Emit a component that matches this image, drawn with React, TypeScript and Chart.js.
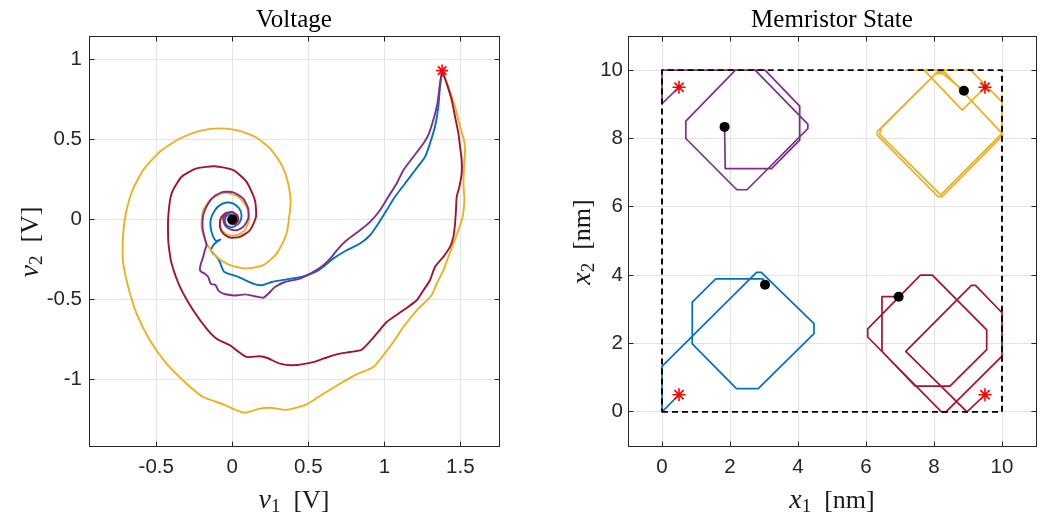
import React, { useEffect, useRef } from 'react';
import { Chart, registerables } from 'chart.js';
Chart.register(...registerables);

// ---------------- Voltage panel (v1 [V], v2 [V]) ----------------
const voltageXRange = [-0.942, 1.754];
const voltageYRange = [-1.414, 1.146];
const voltageXTicks = [-0.5, 0, 0.5, 1, 1.5];
const voltageYTicks = [-1, -0.5, 0, 0.5, 1];
const voltageStart = [[1.38, 0.93]];
const voltageEnd = [[0, 0]];

const voltageBlue = [
  [1.38, 0.93], [1.366, 0.829], [1.355, 0.704], [1.333, 0.579], [1.3, 0.475], [1.268, 0.392],
  [1.202, 0.308], [1.136, 0.225], [1.07, 0.142], [1.015, 0.058], [0.961, -0.025], [0.906, -0.098],
  [0.84, -0.15], [0.752, -0.192], [0.664, -0.244], [0.566, -0.317], [0.456, -0.358], [0.346, -0.375],
  [0.259, -0.39], [0.193, -0.41], [0.138, -0.4], [0.039, -0.358], [-0.026, -0.338], [-0.053, -0.327],
  [-0.07, -0.296], [-0.081, -0.265], [-0.103, -0.233], [-0.125, -0.213], [-0.14, -0.192], [-0.125, -0.16],
  [-0.103, -0.14], [-0.077, -0.125], [-0.107, -0.133], [-0.129, -0.098], [-0.143, -0.046], [-0.14, 0.006],
  [-0.114, 0.058], [-0.081, 0.09], [-0.037, 0.106], [0.007, 0.1], [0.046, 0.069], [0.061, 0.027],
  [0.05, -0.015], [0.018, -0.042], [-0.015, -0.046], [-0.042, -0.029], [-0.048, 0], [-0.033, 0.027],
  [-0.004, 0.033], [0.018, 0.017], [0.018, -0.008], [0, 0],
];

const voltagePurple = [
  [1.38, 0.93], [1.366, 0.85], [1.349, 0.725], [1.322, 0.621], [1.289, 0.527], [1.257, 0.475],
  [1.191, 0.392], [1.125, 0.308], [1.081, 0.225], [1.026, 0.142], [0.971, 0.058], [0.906, -0.015],
  [0.84, -0.067], [0.752, -0.129], [0.697, -0.181], [0.654, -0.233], [0.599, -0.285], [0.533, -0.327],
  [0.445, -0.369], [0.346, -0.39], [0.281, -0.421], [0.237, -0.463], [0.204, -0.488], [0.149, -0.479],
  [0.083, -0.467], [0.039, -0.473], [-0.004, -0.473], [-0.059, -0.463], [-0.092, -0.442], [-0.103, -0.421],
  [-0.114, -0.406], [-0.136, -0.404], [-0.147, -0.39], [-0.158, -0.358], [-0.18, -0.338], [-0.202, -0.327],
  [-0.213, -0.313], [-0.206, -0.275], [-0.191, -0.233], [-0.18, -0.192], [-0.169, -0.16], [-0.18, -0.119],
  [-0.195, -0.056], [-0.191, 0.027], [-0.158, 0.1], [-0.114, 0.148], [-0.059, 0.173], [0.007, 0.169],
  [0.072, 0.131], [0.105, 0.069], [0.105, 0.006], [0.072, -0.046], [0.029, -0.067], [-0.015, -0.06],
  [-0.048, -0.035], [-0.059, 0.006], [-0.037, 0.038], [0.007, 0.044], [0.029, 0.017], [0.018, -0.015], [0, 0],
];

const voltageYellow = [
  [1.38, 0.93], [1.421, 0.829], [1.465, 0.704], [1.498, 0.579], [1.524, 0.496], [1.531, 0.433],
  [1.524, 0.329], [1.52, 0.225], [1.526, 0.121], [1.515, 0.017], [1.487, -0.067], [1.454, -0.15],
  [1.421, -0.233], [1.388, -0.317], [1.344, -0.4], [1.311, -0.473], [1.213, -0.567], [1.125, -0.671],
  [1.059, -0.765], [0.993, -0.848], [0.928, -0.921], [0.818, -0.967], [0.708, -1.025], [0.599, -1.088],
  [0.489, -1.154], [0.357, -1.188], [0.248, -1.175], [0.182, -1.181], [0.083, -1.206], [0.029, -1.192],
  [-0.059, -1.154], [-0.191, -1.108], [-0.3, -1.025], [-0.432, -0.9], [-0.542, -0.754], [-0.629, -0.588],
  [-0.684, -0.421], [-0.717, -0.275], [-0.721, -0.192], [-0.717, -0.088], [-0.7, 0.038], [-0.656, 0.183],
  [-0.586, 0.308], [-0.476, 0.423], [-0.344, 0.506], [-0.213, 0.554], [-0.092, 0.569], [0.029, 0.558],
  [0.149, 0.517], [0.248, 0.444], [0.325, 0.34], [0.368, 0.225], [0.384, 0.11], [0.357, -0.088],
  [0.292, -0.213], [0.204, -0.285], [0.094, -0.306], [-0.015, -0.285], [-0.103, -0.233], [-0.169, -0.15],
  [-0.202, -0.046], [-0.191, 0.058], [-0.136, 0.131], [-0.048, 0.167], [0.039, 0.142], [0.094, 0.079],
  [0.112, 0.006], [0.083, -0.067], [0.029, -0.098], [-0.026, -0.098], [-0.07, -0.067], [-0.081, -0.015],
  [-0.059, 0.027], [-0.015, 0.042], [0.024, 0.017], [0.018, -0.015], [0, 0],
];

const voltageRed = [
  [1.38, 0.93], [1.41, 0.85], [1.443, 0.746], [1.465, 0.642], [1.487, 0.538], [1.498, 0.454],
  [1.509, 0.371], [1.509, 0.288], [1.493, 0.204], [1.476, 0.142], [1.471, 0.058], [1.465, -0.025],
  [1.454, -0.108], [1.432, -0.171], [1.388, -0.233], [1.333, -0.296], [1.3, -0.379], [1.257, -0.442],
  [1.213, -0.504], [1.125, -0.567], [1.015, -0.64], [0.95, -0.713], [0.851, -0.813], [0.774, -0.827],
  [0.686, -0.842], [0.599, -0.869], [0.533, -0.89], [0.401, -0.91], [0.314, -0.9], [0.226, -0.863],
  [0.182, -0.854], [0.094, -0.858], [0.029, -0.817], [-0.015, -0.785], [-0.103, -0.744], [-0.169, -0.681],
  [-0.257, -0.567], [-0.344, -0.421], [-0.399, -0.275], [-0.414, -0.192], [-0.421, -0.129], [-0.421, 0.017],
  [-0.399, 0.163], [-0.333, 0.267], [-0.235, 0.319], [-0.114, 0.333], [0.007, 0.308], [0.094, 0.235],
  [0.149, 0.121], [0.156, 0.017], [0.116, -0.067], [0.05, -0.108], [-0.015, -0.113], [-0.059, -0.088],
  [-0.081, -0.046], [-0.077, 0.006], [-0.048, 0.038], [-0.004, 0.048], [0.033, 0.027], [0.039, -0.004],
  [0.018, -0.029], [-0.015, -0.025], [-0.026, -0.004], [-0.015, 0.017], [0, 0],
];

// ---------------- Memristor state panel (x1 [nm], x2 [nm]) ----------------
const stateRange = [-1, 11];
const stateTicks = [0, 2, 4, 6, 8, 10];
const stateBox = [[0, 0], [10, 0], [10, 10], [0, 10], [0, 0]];
const stateStars = [[0.5, 0.5], [0.5, 9.5], [9.5, 9.5], [9.5, 0.5]];
const stateDots = [[3.03, 3.72], [1.84, 8.34], [8.88, 9.4], [6.96, 3.37]];

const stateBlue = [
  [0.5, 0.5], [0, 0], [0, 1.33], [2.78, 4.08], [2.92, 4.08], [4.47, 2.58], [4.47, 2.29],
  [2.83, 0.68], [2.19, 0.68], [0.89, 1.99], [0.89, 3.21], [1.58, 3.89], [2.97, 3.89], [3.03, 3.72],
];
const statePurple = [
  [0.5, 9.5], [0, 9.02], [0, 10], [2.74, 10], [4.29, 8.42], [4.29, 8.29], [2.5, 6.5], [2.2, 6.5],
  [0.7, 8.0], [0.7, 8.51], [2.16, 10], [3.03, 10], [4.05, 8.95], [4.05, 7.95], [3.22, 7.12],
  [1.86, 7.12], [1.84, 8.34],
];
const stateYellow = [
  [9.5, 9.5], [8.83, 8.83], [7.71, 10], [7.17, 10], [9.08, 10], [10, 9.07], [10, 8.07], [8.24, 6.3],
  [8.12, 6.3], [6.33, 8.1], [6.33, 8.2], [8.1, 9.95], [8.3, 9.95], [10, 8.15], [8.2, 6.35],
  [6.4, 8.12], [6.45, 8.3], [8.05, 9.9], [8.25, 9.9], [8.88, 9.4],
];
const stateRed = [
  [9.5, 0.5], [8.97, 0], [7.17, 1.77], [9.1, 3.7], [9.22, 3.7], [10, 2.9], [10, 1.63], [8.35, 0],
  [8.22, 0], [6.05, 2.19], [6.05, 2.43], [7.6, 4.0], [7.95, 4.0], [9.55, 2.4], [9.55, 1.82],
  [8.47, 0.75], [7.45, 0.75], [6.47, 1.77], [6.47, 3.37], [6.96, 3.37],
];

const BLUE = '#0072BD';
const RED = '#A2142F';
const YELLOW = '#EDB120';
const PURPLE = '#7E2F8E';
const AXIS = '#262626';
const GRID = '#e3e3e3';
const TICK_FONT = '"Liberation Sans", Arial, Helvetica, sans-serif';
const SERIF = '"Liberation Serif", "Times New Roman", serif';

const toXY = (arr: number[][]) => arr.map(([x, y]) => ({ x, y }));

type Part = { text?: string; font?: string; dy?: number; gap?: number };

function drawParts(ctx: CanvasRenderingContext2D, parts: Part[], cx: number, by: number) {
  const widths = parts.map((p) => {
    if (p.gap) return p.gap;
    ctx.font = p.font as string;
    return ctx.measureText(p.text as string).width;
  });
  const total = widths.reduce((a, b) => a + b, 0);
  let x = cx - total / 2;
  ctx.textAlign = 'left';
  ctx.textBaseline = 'alphabetic';
  parts.forEach((p, i) => {
    if (p.text) {
      ctx.font = p.font as string;
      ctx.fillText(p.text, x, by + (p.dy || 0));
    }
    x += widths[i];
  });
}

function mathLabel(sym: string, sub: string, unit: string): Part[] {
  return [
    { text: sym, font: `italic 28px ${SERIF}` },
    { text: sub, font: `19px ${SERIF}`, dy: 4 },
    { gap: 13 },
    { text: unit, font: `26px ${SERIF}` },
  ];
}

function decor(title: string, xParts: Part[], yParts: Part[], xLabelY: number, yLabelX: number) {
  return {
    id: 'decor',
    afterDraw(chart: any) {
      const { ctx, chartArea: a } = chart;
      const xs = chart.scales.x;
      const ys = chart.scales.y;
      const al = (p: number) => Math.round(p - 0.5) + 0.5;
      ctx.save();
      ctx.strokeStyle = AXIS;
      ctx.lineWidth = 1;
      const L = al(a.left), R = al(a.right), T = al(a.top), B = al(a.bottom);
      ctx.beginPath();
      xs.ticks.forEach((t: any) => {
        const p = al(xs.getPixelForValue(t.value));
        ctx.moveTo(p, B); ctx.lineTo(p, B - 5);
        ctx.moveTo(p, T); ctx.lineTo(p, T + 5);
      });
      ys.ticks.forEach((t: any) => {
        const p = al(ys.getPixelForValue(t.value));
        ctx.moveTo(L, p); ctx.lineTo(L + 5, p);
        ctx.moveTo(R, p); ctx.lineTo(R - 5, p);
      });
      ctx.stroke();
      ctx.strokeRect(L, T, R - L, B - T);

      ctx.fillStyle = '#000';
      ctx.font = `25px ${SERIF}`;
      ctx.textAlign = 'center';
      ctx.textBaseline = 'alphabetic';
      ctx.fillText(title, (a.left + a.right) / 2, 27);

      ctx.fillStyle = '#1a1a1a';
      drawParts(ctx, xParts, (a.left + a.right) / 2, xLabelY);
      ctx.translate(yLabelX, (a.top + a.bottom) / 2 + 1);
      ctx.rotate(-Math.PI / 2);
      drawParts(ctx, yParts, 0, 0);
      ctx.restore();
    },
  };
}

function lineSet(data: number[][], color: string, width: number, tension: number) {
  return {
    data: toXY(data),
    showLine: true,
    borderColor: color,
    backgroundColor: color,
    borderWidth: width,
    pointRadius: 0,
    tension,
    fill: false,
  };
}

function starSet(data: number[][], r: number) {
  return {
    data: toXY(data),
    showLine: false,
    pointStyle: 'star',
    pointRadius: r,
    borderColor: '#ff0000',
    backgroundColor: '#ff0000',
    pointBorderWidth: 1.6,
  };
}

function dotSet(data: number[][], r: number) {
  return {
    data: toXY(data),
    showLine: false,
    pointStyle: 'circle',
    pointRadius: r,
    borderColor: '#000',
    backgroundColor: '#000',
    pointBorderWidth: 0,
  };
}

function makeConfig(o: any) {
  const tickCfg = (padding: number) => ({
    padding,
    color: AXIS,
    font: { family: TICK_FONT, size: 20.5 },
    maxRotation: 0,
    autoSkip: false,
    callback: (v: number) => String(v),
  });
  return {
    type: 'scatter',
    data: { datasets: o.datasets },
    options: {
      responsive: false,
      maintainAspectRatio: false,
      animation: false,
      events: [],
      layout: { padding: o.padding },
      plugins: { legend: { display: false }, tooltip: { enabled: false }, title: { display: false } },
      elements: { point: { radius: 0, hoverRadius: 0 }, line: { borderJoinStyle: 'round', borderCapStyle: 'butt' } },
      scales: {
        x: {
          type: 'linear',
          min: o.xRange[0],
          max: o.xRange[1],
          afterBuildTicks: (s: any) => { s.ticks = o.xTicks.map((v: number) => ({ value: v })); },
          afterFit: (s: any) => { s.height = o.xHeight; },
          grid: { color: GRID, lineWidth: 1, drawTicks: false },
          border: { display: false },
          ticks: tickCfg(9),
        },
        y: {
          type: 'linear',
          min: o.yRange[0],
          max: o.yRange[1],
          afterBuildTicks: (s: any) => { s.ticks = o.yTicks.map((v: number) => ({ value: v })); },
          afterFit: (s: any) => { s.width = o.yWidth; },
          grid: { color: GRID, lineWidth: 1, drawTicks: false },
          border: { display: false },
          ticks: tickCfg(o.yPad),
        },
      },
    },
    plugins: [decor(o.title, o.xParts, o.yParts, o.xLabelY, o.yLabelX)],
  };
}

export default function App() {
  const leftRef = useRef<HTMLCanvasElement>(null);
  const rightRef = useRef<HTMLCanvasElement>(null);

  useEffect(() => {
    const left = new Chart(leftRef.current as HTMLCanvasElement, makeConfig({
      datasets: [
        starSet(voltageStart, 6),
        dotSet(voltageEnd, 5),
        lineSet(voltagePurple, PURPLE, 1.9, 0.2),
        lineSet(voltageRed, RED, 1.9, 0.2),
        lineSet(voltageYellow, YELLOW, 1.9, 0.2),
        lineSet(voltageBlue, BLUE, 1.9, 0.2),
      ],
      xRange: voltageXRange,
      yRange: voltageYRange,
      xTicks: voltageXTicks,
      yTicks: voltageYTicks,
      padding: { left: 0, top: 36, right: 31, bottom: 0 },
      yWidth: 89,
      xHeight: 69,
      yPad: 7,
      title: 'Voltage',
      xParts: mathLabel('v', '1', '[V]'),
      yParts: mathLabel('v', '2', '[V]'),
      xLabelY: 508,
      yLabelX: 38,
    }) as any);

    const right = new Chart(rightRef.current as HTMLCanvasElement, makeConfig({
      datasets: [
        starSet(stateStars, 6.5),
        dotSet(stateDots, 5),
        {
          data: toXY(stateBox),
          showLine: true,
          borderColor: '#000',
          borderWidth: 1.9,
          borderDash: [6, 4],
          pointRadius: 0,
          tension: 0,
          fill: false,
        },
        lineSet(stateBlue, BLUE, 1.7, 0),
        lineSet(statePurple, PURPLE, 1.7, 0),
        lineSet(stateYellow, YELLOW, 1.7, 0),
        lineSet(stateRed, RED, 1.7, 0),
      ],
      xRange: stateRange,
      yRange: stateRange,
      xTicks: stateTicks,
      yTicks: stateTicks,
      padding: { left: 0, top: 36, right: 10, bottom: 0 },
      yWidth: 98,
      xHeight: 69,
      yPad: 5,
      title: 'Memristor State',
      xParts: mathLabel('x', '1', '[nm]'),
      yParts: mathLabel('x', '2', '[nm]'),
      xLabelY: 508,
      yLabelX: 60,
    }) as any);

    return () => {
      left.destroy();
      right.destroy();
    };
  }, []);

  return (
    <div style={{ position: 'absolute', left: 0, top: 0, width: 1046, height: 515, background: '#fff' }}>
      <canvas ref={leftRef} width={530} height={515}
        style={{ position: 'absolute', left: 0, top: 0, width: 530, height: 515 }} />
      <canvas ref={rightRef} width={516} height={515}
        style={{ position: 'absolute', left: 530, top: 0, width: 516, height: 515 }} />
    </div>
  );
}
